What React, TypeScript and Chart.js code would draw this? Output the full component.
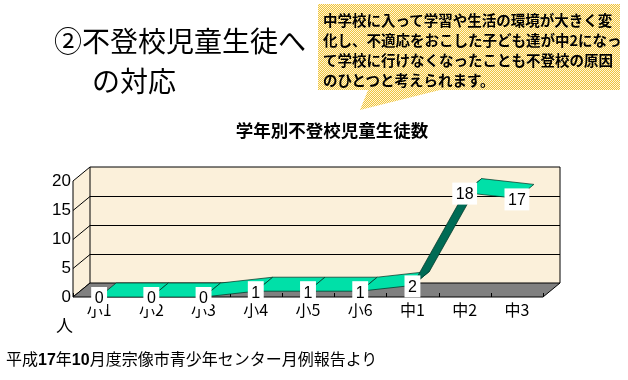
import React, { useEffect, useRef } from "react";
import { Chart, registerables } from "chart.js";

Chart.register(...registerables);

const categories = ["小1", "小2", "小3", "小4", "小5", "小6", "中1", "中2", "中3"];
const students = [0, 0, 0, 1, 1, 1, 2, 18, 17];
const yMin = 0;
const yMax = 20;
const yStep = 5;
const chartTitle = "学年別不登校児童生徒数";
const yUnit = "人";
const heading1 = "②不登校児童生徒へ";
const heading2 = "の対応";
const calloutLines = [
  "中学校に入って学習や生活の環境が大きく変",
  "化し、不適応をおこした子ども達が中2になっ",
  "て学校に行けなくなったことも不登校の原因",
  "のひとつと考えられます。",
];
const sourceNote = "平成17年10月度宗像市青少年センター月例報告より";

const DEPTH_X = 17;
const DEPTH_Y = -14;
const WALL = "#FBF0DA";
const FLOOR = "#808080";
const RIBBON_TOP = "#00E0A8";
const RIBBON_SIDE = "#006B55";
const JP = "'Noto Sans CJK JP', 'Noto Sans', sans-serif";
const LAT = "'Liberation Sans', Arial, sans-serif";

const threeD = {
  id: "threeD",
  beforeDatasetsDraw(chart: any) {
    const { ctx, chartArea: a, scales } = chart;
    const y = scales.y;
    const x = scales.x;
    const dx = DEPTH_X, dy = DEPTH_Y;
    ctx.save();
    ctx.lineWidth = 1;
    ctx.strokeStyle = "#000";
    ctx.fillStyle = WALL;
    ctx.fillRect(a.left + dx, a.top + dy, a.right - a.left, a.bottom - a.top);
    ctx.beginPath();
    ctx.moveTo(a.left, a.top);
    ctx.lineTo(a.left + dx, a.top + dy);
    ctx.lineTo(a.left + dx, a.bottom + dy);
    ctx.lineTo(a.left, a.bottom);
    ctx.closePath();
    ctx.fill();
    ctx.stroke();
    ctx.beginPath();
    ctx.moveTo(a.left + dx, a.top + dy);
    ctx.lineTo(a.right + dx, a.top + dy);
    ctx.lineTo(a.right + dx, a.bottom + dy);
    ctx.stroke();
    for (let v = yMin + yStep; v < yMax; v += yStep) {
      const py = Math.round(y.getPixelForValue(v)) + 0.5;
      ctx.beginPath();
      ctx.moveTo(a.left, py);
      ctx.lineTo(a.left + dx, py + dy);
      ctx.lineTo(a.right + dx, py + dy);
      ctx.stroke();
    }
    ctx.fillStyle = FLOOR;
    ctx.beginPath();
    ctx.moveTo(a.left, a.bottom);
    ctx.lineTo(a.right, a.bottom);
    ctx.lineTo(a.right + dx, a.bottom + dy);
    ctx.lineTo(a.left + dx, a.bottom + dy);
    ctx.closePath();
    ctx.fill();
    ctx.stroke();
    const cw = x.getPixelForValue(1) - x.getPixelForValue(0);
    for (let i = 0; i <= categories.length; i++) {
      const px = Math.round(x.getPixelForValue(0) - cw / 2 + i * cw) + 0.5;
      ctx.beginPath();
      ctx.moveTo(px, a.bottom);
      ctx.lineTo(px, a.bottom - 4);
      ctx.stroke();
    }
    ctx.restore();
  },
  afterDatasetsDraw(chart: any) {
    const { ctx } = chart;
    const pts = chart.getDatasetMeta(0).data;
    const dx = DEPTH_X, dy = DEPTH_Y;
    ctx.save();
    for (let i = 0; i < pts.length - 1; i++) {
      const p = pts[i], q = pts[i + 1];
      const sx = q.x - p.x, sy = q.y - p.y;
      const cross = sx * dy - sy * dx;
      ctx.fillStyle = cross < 0 ? RIBBON_TOP : RIBBON_SIDE;
      ctx.strokeStyle = "rgba(0,50,35,0.9)";
      ctx.lineWidth = 0.8;
      ctx.beginPath();
      ctx.moveTo(p.x, p.y);
      ctx.lineTo(q.x, q.y);
      ctx.lineTo(q.x + dx, q.y + dy);
      ctx.lineTo(p.x + dx, p.y + dy);
      ctx.closePath();
      ctx.fill();
      ctx.stroke();
    }
    ctx.font = `16px ${LAT}`;
    ctx.textAlign = "center";
    ctx.textBaseline = "middle";
    pts.forEach((p: any, i: number) => {
      const t = String(students[i]);
      const w = ctx.measureText(t).width + 7;
      const h = 22;
      ctx.fillStyle = "#fff";
      ctx.fillRect(p.x - w / 2, p.y + 1 - h / 2, w, h);
      ctx.fillStyle = "#000";
      ctx.fillText(t, p.x, p.y + 2);
    });
    ctx.restore();
  },
};

function ChartCanvas() {
  const ref = useRef<HTMLCanvasElement | null>(null);
  useEffect(() => {
    if (!ref.current) return;
    const chart = new Chart(ref.current, {
      type: "line",
      data: {
        labels: categories,
        datasets: [
          {
            data: students,
            showLine: false,
            pointRadius: 0,
            pointHoverRadius: 0,
          },
        ],
      },
      options: {
        animation: false,
        responsive: false,
        events: [],
        layout: { padding: { left: 33, right: 85, top: 181, bottom: 53 } },
        plugins: {
          legend: { display: false },
          tooltip: { enabled: false },
          title: { display: false },
        },
        scales: {
          x: {
            type: "category",
            offset: true,
            grid: { display: false, drawTicks: false },
            border: { display: false },
            ticks: {
              color: "#000",
              font: { family: JP, size: 16 },
              padding: 3,
              maxRotation: 0,
              autoSkip: false,
            },
            afterFit: (s: any) => {
              s.height = 30;
            },
          },
          y: {
            min: yMin,
            max: yMax,
            grid: { display: false, drawTicks: false },
            border: { display: false },
            ticks: {
              stepSize: yStep,
              color: "#000",
              font: { family: LAT, size: 17 },
              padding: 2,
            },
            afterFit: (s: any) => {
              s.width = 40;
            },
          },
        },
      },
      plugins: [threeD],
    });
    return () => chart.destroy();
  }, []);
  return (
    <canvas
      ref={ref}
      width={628}
      height={380}
      style={{ position: "absolute", left: 0, top: 0, width: 628, height: 380 }}
    />
  );
}

export default function App() {
  useEffect(() => {
    document.body.style.margin = "0";
  }, []);
  const parts = sourceNote.split(/(\d+)/);
  return (
    <div
      style={{
        position: "fixed",
        left: 0,
        top: 0,
        width: 628,
        height: 380,
        background: "#fff",
        overflow: "hidden",
        fontFamily: JP,
      }}
    >
      <ChartCanvas />
      <div style={{ position: "absolute", left: 54, top: 26, fontSize: 28, lineHeight: "28px", whiteSpace: "nowrap", color: "#000" }}>
        {heading1}
      </div>
      <div style={{ position: "absolute", left: 92, top: 66, fontSize: 28, lineHeight: "28px", whiteSpace: "nowrap", color: "#000" }}>
        {heading2}
      </div>
      <div
        style={{
          position: "absolute",
          left: 332,
          top: 121,
          transform: "translateX(-50%)",
          fontSize: 17.5,
          lineHeight: "18px",
          fontWeight: "bold",
          whiteSpace: "nowrap",
          color: "#000",
        }}
      >
        {chartTitle}
      </div>
      <div
        style={{
          position: "absolute",
          left: 318,
          top: 4,
          width: 302,
          height: 106,
          backgroundImage: "repeating-conic-gradient(#F0C43C 0 25%, #FFF6D8 0 50%)",
          backgroundSize: "2px 2px",
          clipPath: "polygon(0 0, 302px 0, 302px 86px, 122px 86px, 42px 106px, 50px 86px, 0 86px)",
        }}
      >
        <div style={{ paddingTop: 6, paddingLeft: 5, fontSize: 14.5, lineHeight: "20px", fontWeight: "bold", color: "#000", whiteSpace: "nowrap" }}>
          {calloutLines.map((l, i) => (
            <div key={i}>{l}</div>
          ))}
        </div>
      </div>
      <div style={{ position: "absolute", left: 56, top: 316, fontSize: 17, lineHeight: "17px", color: "#000" }}>{yUnit}</div>
      <div style={{ position: "absolute", left: 6, top: 350, fontSize: 16, lineHeight: "16px", color: "#000", whiteSpace: "nowrap" }}>
        {parts.map((p, i) =>
          /^\d+$/.test(p) ? (
            <b key={i} style={{ fontFamily: LAT }}>{p}</b>
          ) : (
            <span key={i}>{p}</span>
          )
        )}
      </div>
    </div>
  );
}
